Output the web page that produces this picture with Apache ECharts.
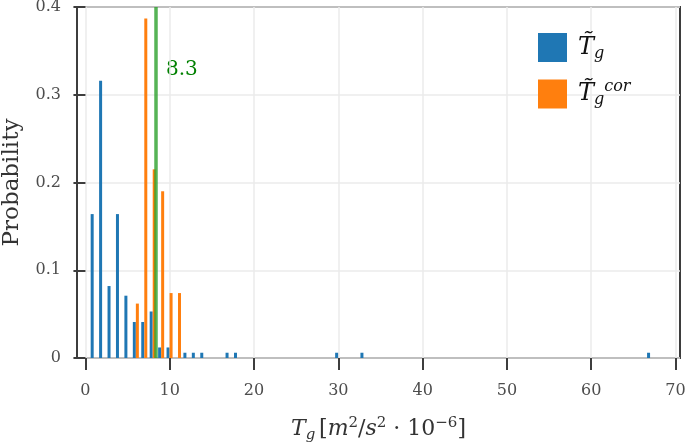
<!DOCTYPE html>
<html>
<head>
<meta charset="utf-8">
<script src="https://cdn.jsdelivr.net/npm/echarts@6/dist/echarts.min.js"></script>
<style>
  html, body { margin: 0; padding: 0; background: #fff; }
  #chart { width: 685px; height: 445px; }
</style>
</head>
<body>
<div id="chart"></div>
<script>
// ===== data =====
const tgX      = [0.8, 1.8, 2.8, 3.8, 4.8, 5.8, 6.8, 7.8, 8.8, 9.8, 11.8, 12.8, 13.8, 16.8, 17.8, 29.8, 32.8, 66.8];
const tgProb   = [0.164, 0.316, 0.082, 0.164, 0.071, 0.041, 0.041, 0.053, 0.012, 0.012, 0.006, 0.006, 0.006, 0.006, 0.006, 0.006, 0.006, 0.006];
const corX     = [6.16, 7.16, 8.16, 9.16, 10.16, 11.16];
const corProb  = [0.062, 0.387, 0.215, 0.190, 0.074, 0.074];
const meanCor  = 8.3;
const xTicks   = [0, 10, 20, 30, 40, 50, 60, 70];

// ===== colours =====
const COLORS = {
    blue: '#1f77b4',
    orange: '#ff7f0e',
    green: '#2ca02c',
    text: '#008000',
    spine: '#3d3d3d',
    grid: '#ebebeb',
    label: '#4d4d4d'
};
const SERIF = '"DejaVu Serif", serif';

const chart = echarts.init(document.getElementById('chart'));

const pairs = (xs, ys) => xs.map((x, i) => [x, ys[i]]);

const option = {
    animation: false,
    textStyle: { fontFamily: SERIF },
    grid: {
        left: 77, right: 5, top: 7, bottom: 87,
        containLabel: false,
        outerBoundsMode: 'none',
        show: true, borderColor: COLORS.spine, borderWidth: 2
    },
    legend: {
        orient: 'vertical',
        left: 533, top: 28,
        itemWidth: 29, itemHeight: 29, itemGap: 17,
        icon: 'rect',
        data: ['tg', 'cor'],
        formatter: function (name) {
            return name === 'tg' ? '{t|T\u0303}{sub|g}' : '{t|T\u0303}{sub|g}{sup|cor}';
        },
        textStyle: {
            fontFamily: SERIF,
            rich: {
                t: { fontSize: 24, fontStyle: 'italic', fontFamily: SERIF, color: '#111', padding: [0, 0, 0, 6], lineHeight: 28 },
                sub: { fontSize: 16, fontStyle: 'italic', fontFamily: SERIF, color: '#111', padding: [12, 0, 0, 0], lineHeight: 28 },
                sup: { fontSize: 16, fontStyle: 'italic', fontFamily: SERIF, color: '#111', padding: [0, 0, 14, 0], lineHeight: 28 }
            }
        }
    },
    xAxis: {
        type: 'value',
        min: -1, max: 70.53,
        name: '{t|T}{sub|g} {n|[}{t|m}{sup|2}{n|/}{t|s}{sup|2}{n| · 10}{sup|\u22126}{n|]}',
        nameLocation: 'middle',
        nameGap: 58,
        nameTextStyle: {
            rich: {
                t: { fontSize: 22, fontStyle: 'italic', fontFamily: SERIF, color: '#333' },
                n: { fontSize: 22, fontFamily: SERIF, color: '#333' },
                sub: { fontSize: 15, fontStyle: 'italic', fontFamily: SERIF, color: '#333', padding: [12, 0, 0, 0] },
                sup: { fontSize: 15, fontFamily: SERIF, color: '#333', padding: [0, 0, 12, 0] }
            }
        },
        axisLine: { show: false },
        axisTick: { show: true, customValues: xTicks, length: 12, lineStyle: { color: COLORS.spine, width: 2 } },
        axisLabel: { customValues: xTicks, margin: 25, fontSize: 16, color: COLORS.label, fontFamily: SERIF },
        splitLine: { show: true, lineStyle: { color: COLORS.grid, width: 1.5 } }
    },
    yAxis: {
        type: 'value',
        min: 0, max: 0.4, interval: 0.1,
        name: 'Probability',
        nameLocation: 'middle',
        nameGap: 53,
        nameTextStyle: { fontSize: 23, fontFamily: SERIF, color: '#333' },
        axisLine: { show: false },
        axisTick: { show: true, length: 12, lineStyle: { color: COLORS.spine, width: 2 } },
        axisLabel: { margin: 16, fontSize: 16, color: COLORS.label, fontFamily: SERIF },
        splitLine: { show: true, lineStyle: { color: COLORS.grid, width: 1.5 } }
    },
    series: [
        {
            name: 'tg',
            type: 'bar',
            data: pairs(tgX, tgProb),
            barWidth: 3,
            barGap: '-100%',
            itemStyle: { color: COLORS.blue }
        },
        {
            name: 'cor',
            type: 'bar',
            data: pairs(corX, corProb),
            barWidth: 3,
            barGap: '-100%',
            itemStyle: { color: COLORS.orange },
            markLine: {
                silent: true,
                symbol: 'none',
                label: { show: false },
                lineStyle: { color: COLORS.green, width: 3.5, type: 'solid', opacity: 0.8 },
                data: [{ xAxis: meanCor }]
            }
        }
    ],
    graphic: [{
        type: 'text',
        left: 166, top: 60,
        style: { text: meanCor.toFixed(1), fontSize: 20, fontFamily: SERIF, fill: COLORS.text }
    }]
};

chart.setOption(option);
</script>
</body>
</html>
